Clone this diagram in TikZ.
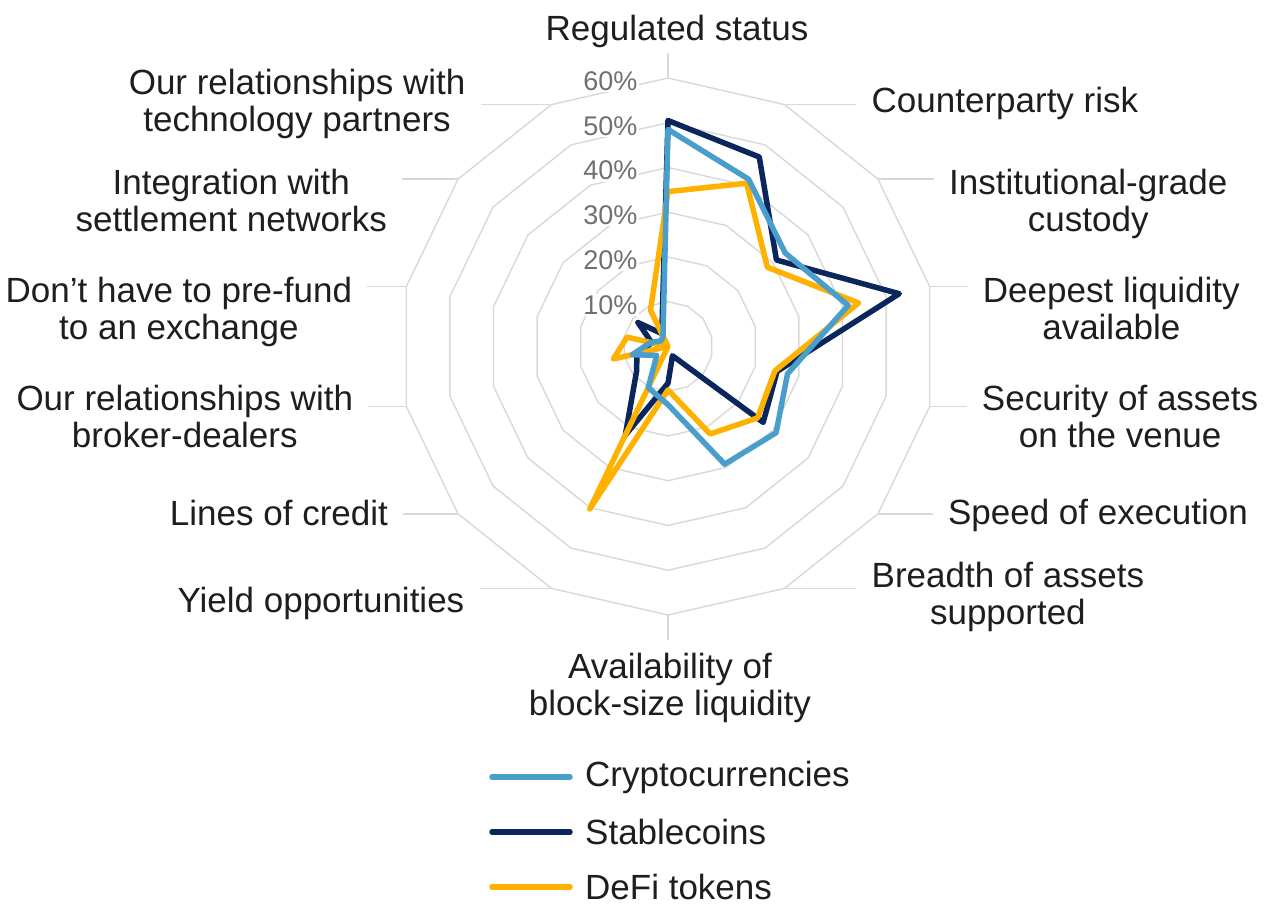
\documentclass[tikz,border=0pt]{standalone}
\usepackage{fontspec}
\setmainfont{Liberation Sans}
\usepackage{tikz}
\usetikzlibrary{positioning}
\definecolor{crypto}{RGB}{74,158,204}
\definecolor{stable}{RGB}{10,38,92}
\definecolor{defi}{RGB}{255,177,0}
\definecolor{gridgray}{RGB}{216,216,216}
\definecolor{pctgray}{RGB}{112,112,112}
\definecolor{labelblack}{RGB}{30,30,30}

\begin{document}
\begin{tikzpicture}[x=1pt,y=1pt,font=\fontsize{35}{37}\selectfont]
\tikzstyle{ring}=[draw=gridgray,line width=1.4]
\tikzstyle{series}=[line width=5.5,line join=round,line cap=round]
\tikzstyle{axislabel}=[align=center,text=labelblack,inner sep=0]
\tikzstyle{pct}=[fill=white,text=pctgray,inner sep=1.5,font=\fontsize{27}{27}\selectfont]
\tikzstyle{legtext}=[text=labelblack,inner sep=0,anchor=west]
\useasboundingbox (0,0) rectangle (1267,907);
\begin{scope}[shift={(668,560.5)}]
% rings, 10% to 60%
\foreach \r in {1,...,6}{
\draw[ring] (90:\r*44.75) \foreach \k in {1,...,13}{ -- (90-\k*25.7143:\r*44.75)} -- cycle;
}
% corners of the outer ring
\foreach \k in {0,...,13}{
\coordinate (v\k) at (90-\k*25.7143:268.5);
}
% leaders
\draw[ring] (v0) -- ++(0,25) coordinate (e0);
\draw[ring] (v7) -- ++(0,-25) coordinate (e7);
\foreach \k/\len in {1/72,2/56,3/38,4/37,5/55,6/72}{
\draw[ring] (v\k) -- ++(\len,0) coordinate (e\k);
}
\foreach \k/\len in {8/72,9/55,10/38,11/39,12/56,13/71}{
\draw[ring] (v\k) -- ++(-\len,0) coordinate (e\k);
}
% percent labels
\foreach \r in {1,...,6}{
\node[pct,anchor=east] (p\r) at (-29,\r*44.75-3) {\r0\%};
}
% axis labels
\node[axislabel] (l0) at ([shift={(9,22)}]e0) {Regulated status};
\node[axislabel] (l7) at ([shift={(2,-48)}]e7) {Availability of\\block-size liquidity};
\foreach \k/\dy/\txt in {1/1/{Counterparty risk},2/-25/{Institutional-grade\\custody},3/-22/{Deepest liquidity\\available},4/-10/{Security of assets\\on the venue},5/-2/{Speed of execution},6/-9/{Breadth of assets\\supported}}{
\node[axislabel,anchor=west] (l\k) at ([shift={(15,\dy)}]e\k) {\txt};
}
\foreach \k/\dy/\txt in {8/-15/{Yield opportunities},9/1/{Lines of credit},10/-10/{Our relationships with\\broker-dealers},11/-25/{Don’t have to pre-fund\\to an exchange},12/-21/{Integration with\\settlement networks},13/1/{Our relationships with\\technology partners}}{
\node[axislabel,anchor=east] (l\k) at ([shift={(-15,\dy)}]e\k) {\txt};
}
% series (values in %)
\draw[series,stable] (90:50.5*4.475) \foreach \k/\v in {1/47,2/31,3/53,4/25,5/27.2,6/2.3,7/8.2,8/22,9/9,10/7.1,11/3.7,12/8.6,13/3.2}{ -- (90-\k*25.7143:\v*4.475)} -- cycle;
\draw[series,defi] (90:34.6*4.475) \foreach \k/\v in {1/40.5,2/28.4,3/43.7,4/24.5,5/25.6,6/21.7,7/9.7,8/40.3,9/0,10/12.5,11/9.4,12/0,13/9}{ -- (90-\k*25.7143:\v*4.475)} -- cycle;
\draw[series,crypto] (90:48.5*4.475) \foreach \k/\v in {1/41.5,2/33.5,3/41.3,4/27.4,5/30.9,6/29.2,7/13,8/10.2,9/3.2,10/8.2,11/4,12/2,13/2.6}{ -- (90-\k*25.7143:\v*4.475)} -- cycle;
\end{scope}
% legend
\foreach \i/\c/\txt in {1/crypto/Cryptocurrencies,2/stable/Stablecoins,3/defi/DeFi tokens}{
\node[legtext] (leg\i) at (585,185-55*\i) {\txt};
\draw[series,\c] ([xshift=-93]leg\i.west) -- ([xshift=-15]leg\i.west);
}
\end{tikzpicture}
\end{document}
